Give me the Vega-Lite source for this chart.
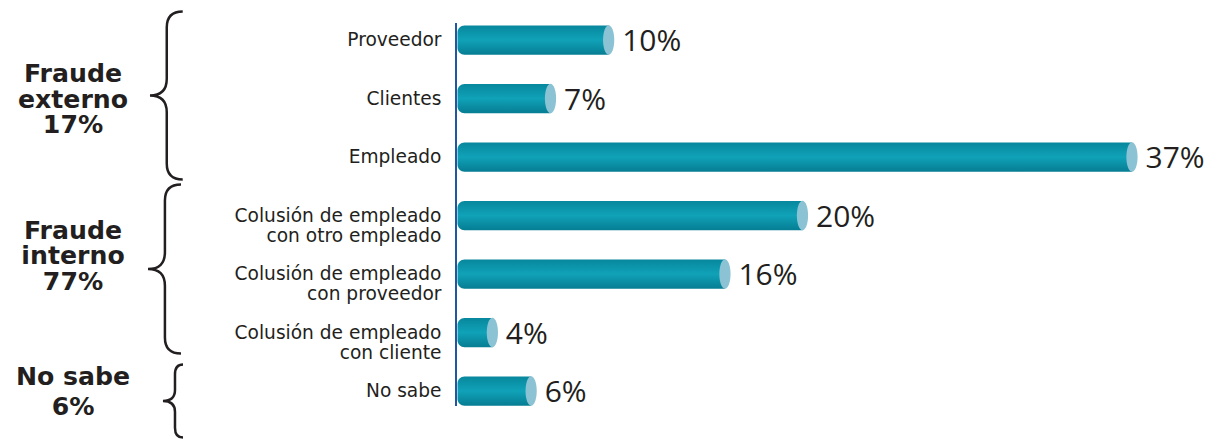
{
  "$schema": "https://vega.github.io/schema/vega-lite/v6.json",
  "autosize": {"type": "none"},
  "padding": {"left": 456, "top": 10.75, "right": 6, "bottom": 18.75},
  "width": 759,
  "height": 409.5,
  "background": "white",
  "config": {"view": {"stroke": null}},
  "datasets": {
    "fraude": [
      {"categoria": "Proveedor", "valor": 0.10},
      {"categoria": "Clientes", "valor": 0.07},
      {"categoria": "Empleado", "valor": 0.37},
      {"categoria": "Colusión de empleado\ncon otro empleado", "valor": 0.20},
      {"categoria": "Colusión de empleado\ncon proveedor", "valor": 0.16},
      {"categoria": "Colusión de empleado\ncon cliente", "valor": 0.04},
      {"categoria": "No sabe", "valor": 0.06}
    ]
  },
  "layer": [
    {
      "data": {"name": "fraude"},
      "mark": {
        "type": "bar",
        "xOffset": -5.5,
        "x2Offset": 1.5,
        "cornerRadiusTopLeft": 7,
        "cornerRadiusBottomLeft": 7,
        "color": {
          "gradient": "linear",
          "x1": 0, "y1": 0, "x2": 0, "y2": 1,
          "stops": [
            {"offset": 0, "color": "#07879d"},
            {"offset": 0.5, "color": "#10a2b8"},
            {"offset": 1, "color": "#067d93"}
          ]
        }
      },
      "encoding": {
        "y": {
          "field": "categoria",
          "type": "nominal",
          "sort": null,
          "scale": {
            "domain": ["Proveedor", "Clientes", "Empleado", "Colusión de empleado\ncon otro empleado", "Colusión de empleado\ncon proveedor", "Colusión de empleado\ncon cliente", "No sabe"],
            "paddingInner": 0.5,
            "paddingOuter": 0.25
          },
          "axis": {
            "title": null,
            "domain": false,
            "ticks": false,
            "grid": false,
            "labelPadding": 15,
            "labelFont": "DejaVu Sans",
            "labelFontSize": 18.6,
            "labelColor": "#231f20",
            "labelLineHeight": 20,
            "labelLimit": 400,
            "labelExpr": "split(datum.label, '\\n')"
          }
        },
        "x": {
          "field": "valor",
          "type": "quantitative",
          "scale": {"domain": [0.0184, 0.41], "zero": false, "nice": false},
          "axis": null
        },
        "x2": {"datum": 0.0184}
      }
    },
    {
      "data": {"name": "fraude"},
      "mark": {
        "type": "point",
        "shape": "M 0 -1 A 0.38 1 0 1 1 0 1 A 0.38 1 0 1 1 0 -1 Z",
        "size": 870,
        "filled": true,
        "color": "#8cc3d4",
        "opacity": 1,
        "xOffset": -5.5
      },
      "encoding": {
        "y": {"field": "categoria", "type": "nominal"},
        "x": {"field": "valor", "type": "quantitative"}
      }
    },
    {
      "data": {"name": "fraude"},
      "mark": {
        "type": "text",
        "align": "left",
        "baseline": "middle",
        "dx": 8,
        "dy": 2,
        "font": "Open Sans",
        "fontSize": 30,
        "color": "#231f20"
      },
      "encoding": {
        "y": {"field": "categoria", "type": "nominal"},
        "x": {"field": "valor", "type": "quantitative"},
        "text": {"field": "valor", "type": "quantitative", "format": ".0%"}
      }
    },
    {
      "data": {"values": [{}]},
      "mark": {"type": "rule", "color": "#2157a0", "strokeWidth": 2, "yOffset": -17, "y2Offset": 15},
      "encoding": {
        "x": {"datum": 0.0184, "type": "quantitative"},
        "y": {"datum": "Proveedor", "type": "nominal"},
        "y2": {"datum": "No sabe"}
      }
    },
    {
      "data": {"values": [{"grupo": "Fraude\nexterno\n17%"}]},
      "mark": {"type": "text", "align": "center", "baseline": "middle", "lineBreak": "\n", "lineHeight": 25.5, "font": "DejaVu Sans", "fontWeight": "bold", "fontSize": 25.2, "color": "#231f20", "dy": -24.5},
      "encoding": {
        "x": {"datum": -0.1792, "type": "quantitative"},
        "y": {"datum": "Clientes", "type": "nominal"},
        "text": {"field": "grupo", "type": "nominal"}
      }
    },
    {
      "data": {"values": [{"grupo": "Fraude\ninterno\n77%"}]},
      "mark": {"type": "text", "align": "center", "baseline": "middle", "lineBreak": "\n", "lineHeight": 25.5, "font": "DejaVu Sans", "fontWeight": "bold", "fontSize": 25.2, "color": "#231f20", "dy": -43.5},
      "encoding": {
        "x": {"datum": -0.1792, "type": "quantitative"},
        "y": {"datum": "Colusión de empleado\ncon proveedor", "type": "nominal"},
        "text": {"field": "grupo", "type": "nominal"}
      }
    },
    {
      "data": {"values": [{"grupo": "No sabe\n6%"}]},
      "mark": {"type": "text", "align": "center", "baseline": "middle", "lineBreak": "\n", "lineHeight": 29.5, "font": "DejaVu Sans", "fontWeight": "bold", "fontSize": 25.2, "color": "#231f20", "dy": -14},
      "encoding": {
        "x": {"datum": -0.1792, "type": "quantitative"},
        "y": {"datum": "No sabe", "type": "nominal"},
        "text": {"field": "grupo", "type": "nominal"}
      }
    },
    {
      "data": {"values": [{}]},
      "mark": {
        "type": "point",
        "shape": "M 0.39 -1 Q 0.2 -1 0.2 -0.81 L 0.2 -0.2 Q 0.2 0 0 0 Q 0.2 0 0.2 0.2 L 0.2 0.81 Q 0.2 1 0.39 1",
        "size": 28224,
        "filled": false,
        "color": "#231f20",
        "strokeWidth": 2.5,
        "opacity": 1,
        "yOffset": -3
      },
      "encoding": {
        "x": {"datum": -0.1395, "type": "quantitative"},
        "y": {"datum": "Clientes", "type": "nominal"}
      }
    },
    {
      "data": {"values": [{}]},
      "mark": {
        "type": "point",
        "shape": "M 0.39 -1 Q 0.2 -1 0.2 -0.81 L 0.2 -0.2 Q 0.2 0 0 0 Q 0.2 0 0.2 0.2 L 0.2 0.81 Q 0.2 1 0.39 1",
        "size": 28561,
        "filled": false,
        "color": "#231f20",
        "strokeWidth": 2.5,
        "opacity": 1,
        "yOffset": -5
      },
      "encoding": {
        "x": {"datum": -0.1405, "type": "quantitative"},
        "y": {"datum": "Colusión de empleado\ncon proveedor", "type": "nominal"}
      }
    },
    {
      "data": {"values": [{}]},
      "mark": {
        "type": "point",
        "shape": "M 0.55 -1 Q 0.33 -1 0.33 -0.73 L 0.33 -0.3 Q 0.33 0 0 0 Q 0.33 0 0.33 0.3 L 0.33 0.73 Q 0.33 1 0.55 1",
        "size": 5329,
        "filled": false,
        "color": "#231f20",
        "strokeWidth": 2.5,
        "opacity": 1,
        "yOffset": 10
      },
      "encoding": {
        "x": {"datum": -0.1328, "type": "quantitative"},
        "y": {"datum": "No sabe", "type": "nominal"}
      }
    }
  ]
}
